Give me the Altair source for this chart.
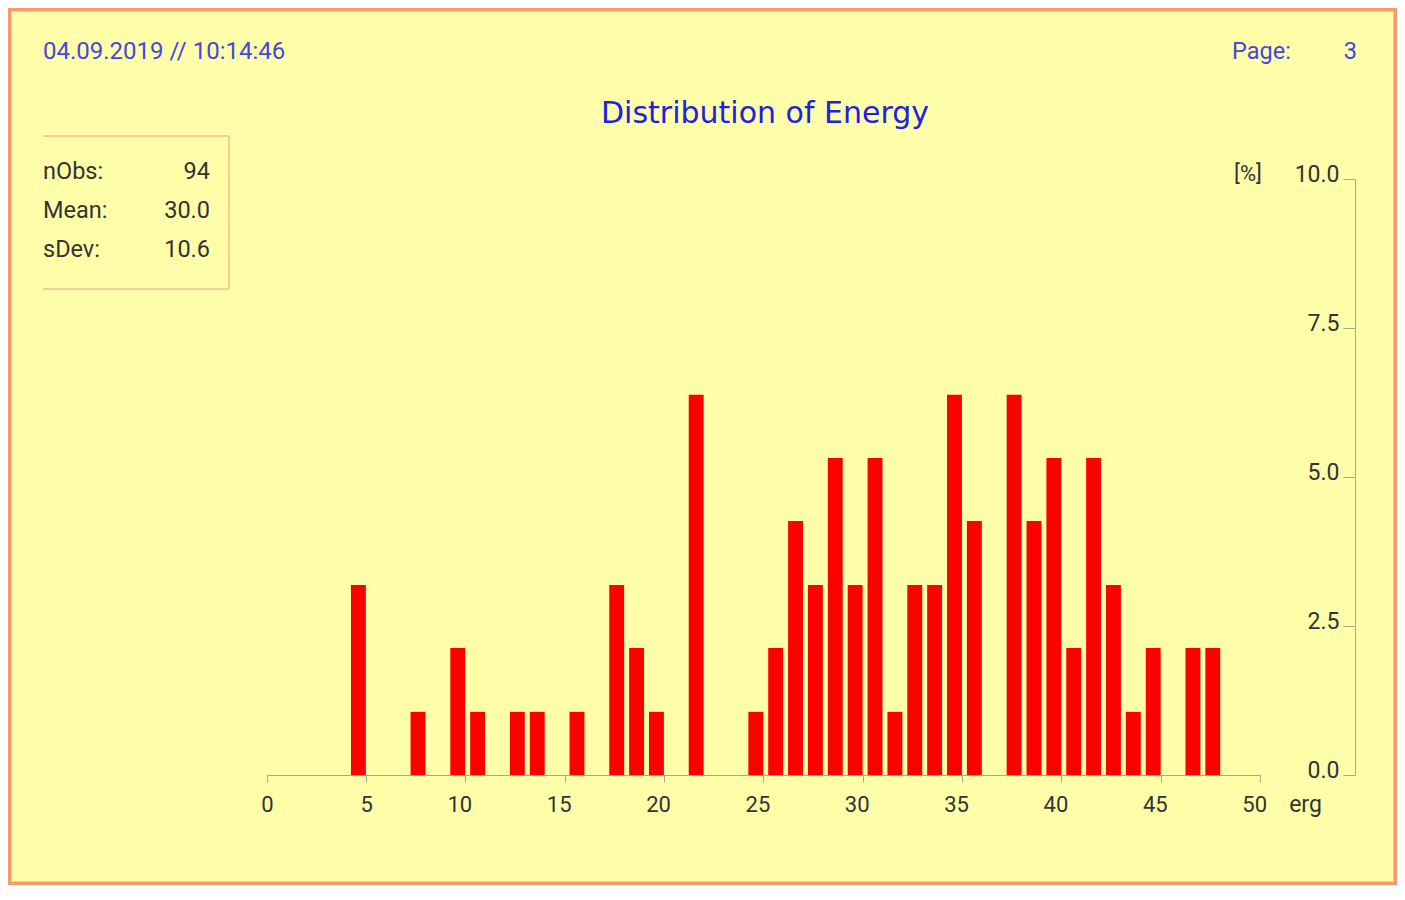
import altair as alt
import pandas as pd

# ---- data ----
bin_upper = [5, 8, 10, 11, 13, 14, 16, 18, 19, 20,
             22, 25, 26, 27, 28, 29, 30, 31, 32, 33,
             34, 35, 36, 38, 39, 40, 41, 42, 43, 44,
             45, 47, 48]
percent = [3.19, 1.06, 2.13, 1.06, 1.06, 1.06, 1.06, 3.19, 2.13, 1.06,
           6.38, 1.06, 2.13, 4.26, 3.19, 5.32, 3.19, 5.32, 1.06, 3.19,
           3.19, 6.38, 4.26, 6.38, 4.26, 5.32, 2.13, 5.32, 3.19, 1.06,
           2.13, 2.13, 2.13]
x_ticks = [0, 5, 10, 15, 20, 25, 30, 35, 40, 45, 50]
y_ticks = [0, 2.5, 5, 7.5, 10]
stat_labels = ["nObs:", "Mean:", "sDev:"]
stat_values = ["94", "30.0", "10.6"]
header_left = "04.09.2019 // 10:14:46"
page_label = "Page:"
page_value = "3"
title_text = "Distribution of Energy"
x_unit = "erg"
y_unit = "[%]"

# ---- layout / style ----
W, H = 1389, 877
BG = "#ffffaa"
BORDER = "#f59a6e"
BOX = "#f8b890"
AXIS = "#a8a890"
TXT = "#333333"
BLUE = "#4646e0"
TITLE_BLUE = "#2020e6"
BAR_W = 0.75

df = pd.DataFrame({"energy": bin_upper, "pct": percent})

xscale = alt.Scale(domain=[0, 50], range=[258.5, 1252], nice=False, zero=False)
yscale = alt.Scale(domain=[0, 10], range=[767, 171], nice=False)

bars = alt.Chart(df).transform_calculate(
    start=f"datum.energy - {BAR_W}"
).mark_rect(color="#ff0000").encode(
    x=alt.X("start:Q", scale=xscale,
            axis=alt.Axis(values=x_ticks, format="d", title=x_unit, orient="bottom",
                          offset=-(H - 767), grid=False, domainColor=AXIS, tickColor=AXIS,
                          tickSize=7, labelPadding=29, labelBaseline="alphabetic",
                          labelAlign="right", labelOffset=6.5, labelFlush=False,
                          labelOverlap=False, labelFont="Roboto", labelFontSize=22,
                          labelColor=TXT, titleFont="Roboto", titleFontSize=23,
                          titleFontWeight="normal", titleColor=TXT, titleX=1297,
                          titleY=36, titleAlign="center", titleBaseline="alphabetic",
                          titleAngle=0)),
    x2="energy:Q",
    y=alt.Y("pct:Q", scale=yscale,
            axis=alt.Axis(values=y_ticks, format=".1f", title=y_unit, orient="left",
                          offset=-1347, grid=False, domainColor=AXIS, tickColor=AXIS,
                          tickSize=12, labelPadding=4, labelOffset=-5, labelFlush=False,
                          labelOverlap=False, labelFont="Roboto", labelFontSize=23,
                          labelColor=TXT, titleFont="Roboto", titleFontSize=22,
                          titleFontWeight="normal", titleColor=TXT, titleX=-107.5,
                          titleY=165, titleAlign="center", titleBaseline="middle",
                          titleAngle=0)),
    y2=alt.datum(0),
)


def txt(s, x, y, size, color, align="left", font="Roboto", baseline="alphabetic"):
    return alt.Chart(pd.DataFrame({"t": [s]})).mark_text(
        align=align, baseline=baseline, font=font, fontSize=size, color=color
    ).encode(x=alt.value(x), y=alt.value(y), text="t:N")


layers = [bars]
layers.append(txt(header_left, 35, 51, 24, BLUE))
layers.append(txt(page_label, 1224, 51, 23.5, BLUE))
layers.append(txt(page_value, 1349, 51, 23.5, BLUE, align="right"))
layers.append(txt(title_text, 757, 115, 30, TITLE_BLUE, align="center", font="DejaVu Sans"))

row_y = [171, 210, 249]
for lab, val, yy in zip(stat_labels, stat_values, row_y):
    layers.append(txt(lab, 35, yy, 23.5, TXT))
    layers.append(txt(val, 202, yy, 23.5, TXT, align="right"))

one = pd.DataFrame({"k": [0]})
box_top = alt.Chart(one).mark_rule(color=BOX, strokeWidth=1.5).encode(
    x=alt.value(35), x2=alt.value(221), y=alt.value(128))
box_bottom = alt.Chart(one).mark_rule(color=BOX, strokeWidth=1.5).encode(
    x=alt.value(35), x2=alt.value(221), y=alt.value(281))
box_right = alt.Chart(one).mark_rule(color=BOX, strokeWidth=1.5).encode(
    x=alt.value(221), y=alt.value(128), y2=alt.value(281))
layers += [box_top, box_bottom, box_right]

chart = alt.layer(*layers).properties(
    width=W, height=H,
    autosize=alt.AutoSizeParams(type="none"),
    padding=0,
    background=BG,
).configure_view(
    fill=BG, stroke=BORDER, strokeWidth=7
)

chart.save("out.html", embed_options={"renderer": "svg", "actions": False})
